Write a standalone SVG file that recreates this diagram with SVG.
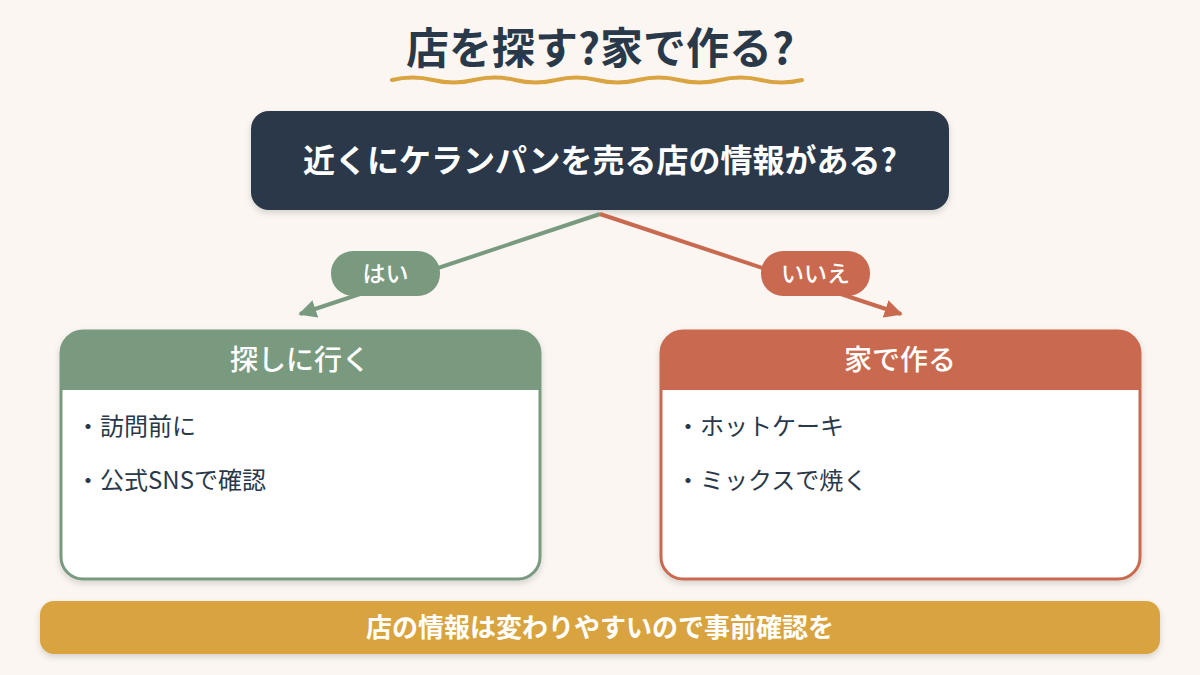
<svg xmlns="http://www.w3.org/2000/svg" width="1200" height="675" viewBox="0 0 1200 675">
<style>
text{font-family:"Noto Sans CJK JP","Noto Sans",sans-serif}
.title{font-size:43px;font-weight:700;fill:#2a394a}
.q{font-size:32px;font-weight:700;fill:#ffffff}
.lbl{font-size:23px;font-weight:500;fill:#ffffff}
.hdr{font-size:28px;font-weight:500;fill:#ffffff}
.item{font-size:24px;font-weight:400;fill:#2a394a}
.note{font-size:26px;font-weight:700;fill:#ffffff}
</style>
<defs>
<filter id="sh" x="-10%" y="-10%" width="120%" height="130%">
<feDropShadow dx="0" dy="3" stdDeviation="3" flood-color="#000" flood-opacity="0.15"/>
</filter>
<marker id="ag" viewBox="0 0 10 10" refX="9" refY="5" markerWidth="4.5" markerHeight="4.5" orient="auto"><path d="M0,0L10,5L0,10z" fill="#7a9a80"/></marker>
<marker id="ar" viewBox="0 0 10 10" refX="9" refY="5" markerWidth="4.5" markerHeight="4.5" orient="auto"><path d="M0,0L10,5L0,10z" fill="#c96a50"/></marker>
</defs>
<rect width="1200" height="675" fill="#fbf6f1"/>
<g id="title">
<text class="title" x="600" y="64" text-anchor="middle">店を探す?家で作る?</text>
<path d="M392,80 q20.5,-5 41,0 t41,0 t41,0 t41,0 t41,0 t41,0 t41,0 t41,0 t41,0 t41,0" fill="none" stroke="#d9a441" stroke-width="4" stroke-linecap="round"/>
</g>
<g id="question">
<rect x="251" y="111" width="698" height="99" rx="18" fill="#2a394a" filter="url(#sh)"/>
<text class="q" x="600" y="172" text-anchor="middle">近くにケランパンを売る店の情報がある?</text>
</g>
<g id="connectors">
<line x1="600" y1="214" x2="300" y2="314" stroke="#7a9a80" stroke-width="4" marker-end="url(#ag)"/>
<line x1="600" y1="214" x2="901" y2="314" stroke="#c96a50" stroke-width="4" marker-end="url(#ar)"/>
<g id="yes-label">
<rect x="331" y="251" width="109" height="45" rx="22" fill="#7a9a80"/>
<text class="lbl" x="385.5" y="282" text-anchor="middle">はい</text>
</g>
<g id="no-label">
<rect x="761" y="251" width="109" height="45" rx="22" fill="#c96a50"/>
<text class="lbl" x="815.5" y="282" text-anchor="middle">いいえ</text>
</g>
</g>
<g id="left-card">
<rect x="61" y="331" width="479" height="248" rx="22" fill="#ffffff" stroke="#7a9a80" stroke-width="3" filter="url(#sh)"/>
<path d="M61,390 V353 a22,22 0 0 1 22,-22 H518 a22,22 0 0 1 22,22 V390 z" fill="#7a9a80"/>
<text class="hdr" x="300" y="370" text-anchor="middle">探しに行く</text>
<text class="item" x="76" y="435">・訪問前に</text>
<text class="item" x="76" y="489">・公式SNSで確認</text>
</g>
<g id="right-card">
<rect x="661" y="331" width="479" height="248" rx="22" fill="#ffffff" stroke="#c96a50" stroke-width="3" filter="url(#sh)"/>
<path d="M661,390 V353 a22,22 0 0 1 22,-22 H1118 a22,22 0 0 1 22,22 V390 z" fill="#c96a50"/>
<text class="hdr" x="900" y="370" text-anchor="middle">家で作る</text>
<text class="item" x="676" y="435">・ホットケーキ</text>
<text class="item" x="676" y="489">・ミックスで焼く</text>
</g>
<g id="note">
<rect x="40" y="601" width="1120" height="53" rx="14" fill="#d9a441" filter="url(#sh)"/>
<text class="note" x="600" y="637" text-anchor="middle">店の情報は変わりやすいので事前確認を</text>
</g>
</svg>
